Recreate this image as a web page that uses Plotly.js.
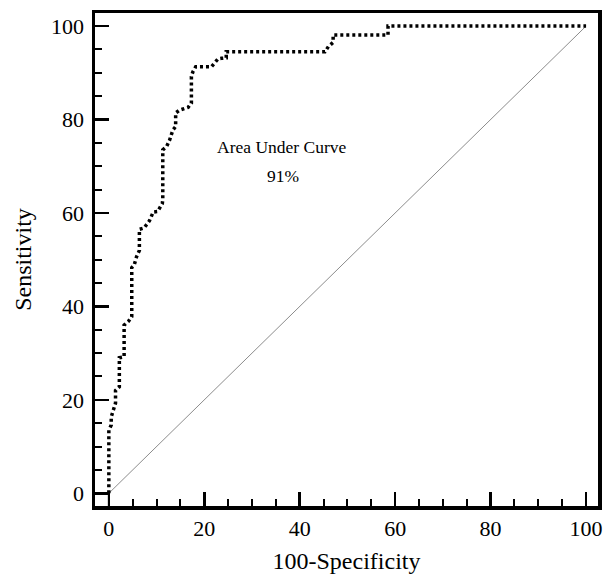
<!DOCTYPE html>
<html>
<head>
<meta charset="utf-8">
<script src="https://cdn.plot.ly/plotly-3.0.1.min.js"></script>
<style>html,body{margin:0;padding:0;background:#fff;}#chart{width:608px;height:581px;}</style>
</head>
<body>
<div id="chart"></div>
<script>
// ROC curve vertices (100-Specificity, Sensitivity)
const rocX = [0, 0, 0.5, 0.5, 0.85, 1.4, 1.4, 2.2, 2.2, 3.2, 3.2, 4.1, 4.8, 4.8, 5.3, 5.8, 6.4, 6.4, 7.4, 8.5, 9.3, 10.2, 11.2, 11.3, 11.3, 12.1, 12.7, 13.4, 14.0, 14.0, 14.8, 16.6, 17.3, 17.3, 17.6, 18.2, 21.5, 22.2, 22.9, 23.6, 24.6, 24.6, 45.3, 46.0, 47.0, 47.0, 58.5, 58.5, 100];
const rocY = [0, 13.5, 14.6, 16.3, 17.5, 19.3, 22.0, 22.8, 29.0, 29.2, 36.0, 36.8, 37.8, 48.3, 48.8, 50.6, 52.0, 56.5, 56.8, 58.3, 60.2, 60.3, 62.0, 62.8, 73.5, 74.2, 75.5, 77.7, 78.5, 81.4, 82.0, 82.6, 83.5, 89.2, 90.2, 91.3, 91.3, 92.3, 93.0, 93.1, 93.2, 94.5, 94.5, 95.6, 96.5, 98.1, 98.1, 100, 100];
// Reference diagonal
const diagX = [0, 100];
const diagY = [0, 100];
// Axis settings
const xRange = [-2.9, 102.5];
const yRange = [-2.72, 102.8];
const tickVals = [0, 20, 40, 60, 80, 100];
const tickText = ['0', '20', '40', '60', '80', '100'];
const aucLabel = 'Area Under Curve';
const aucValue = '91%';
const xTitle = '100-Specificity';
const yTitle = 'Sensitivity';

const serif = 'Liberation Serif, Times New Roman, serif';

const traces = [
  {x: diagX, y: diagY, mode: 'lines', line: {color: '#8c8c8c', width: 1}, hoverinfo: 'skip', showlegend: false},
  {x: rocX, y: rocY, mode: 'lines', line: {color: '#000', width: 3.5, dash: '3px,3px'}, showlegend: false}
];

const axisCommon = {
  showgrid: false, zeroline: false,
  showline: true, linewidth: 3.5, linecolor: '#000', mirror: true,
  ticks: 'inside', ticklen: 14, tickwidth: 2.5, tickcolor: '#000',
  tickmode: 'array', tickvals: tickVals, ticktext: tickText,
  tickfont: {family: serif, size: 22, color: '#000'},
  minor: {dtick: 5, ticks: 'inside', ticklen: 7, tickwidth: 2, tickcolor: '#000', showgrid: false},
  fixedrange: true
};

const layout = {
  width: 608, height: 581,
  margin: {l: 95, r: 10, t: 13, b: 75},
  paper_bgcolor: '#fff', plot_bgcolor: '#fff',
  showlegend: false,
  xaxis: Object.assign({}, axisCommon, {
    range: xRange, ticklabelstandoff: 0,
    title: {text: xTitle, font: {family: serif, size: 24, color: '#000'}, standoff: 13}
  }),
  yaxis: Object.assign({}, axisCommon, {
    range: yRange, ticklabelstandoff: 3,
    title: {text: yTitle, font: {family: serif, size: 24, color: '#000'}, standoff: 13}
  }),
  shapes: [
    {type: 'line', xref: 'x', yref: 'y', x0: xRange[0], x1: 0, y0: 0, y1: 0, line: {color: '#000', width: 2}},
    {type: 'line', xref: 'x', yref: 'y', x0: 0, x1: 0, y0: yRange[0], y1: 0, line: {color: '#000', width: 2}}
  ],
  annotations: [
    {x: 36.2, y: 74.1, xref: 'x', yref: 'y', text: aucLabel, showarrow: false, font: {family: serif, size: 17.5, color: '#000'}},
    {x: 36.4, y: 68.0, xref: 'x', yref: 'y', text: aucValue, showarrow: false, font: {family: serif, size: 17.5, color: '#000'}}
  ]
};

Plotly.newPlot('chart', traces, layout, {staticPlot: true, displayModeBar: false});
</script>
</body>
</html>
